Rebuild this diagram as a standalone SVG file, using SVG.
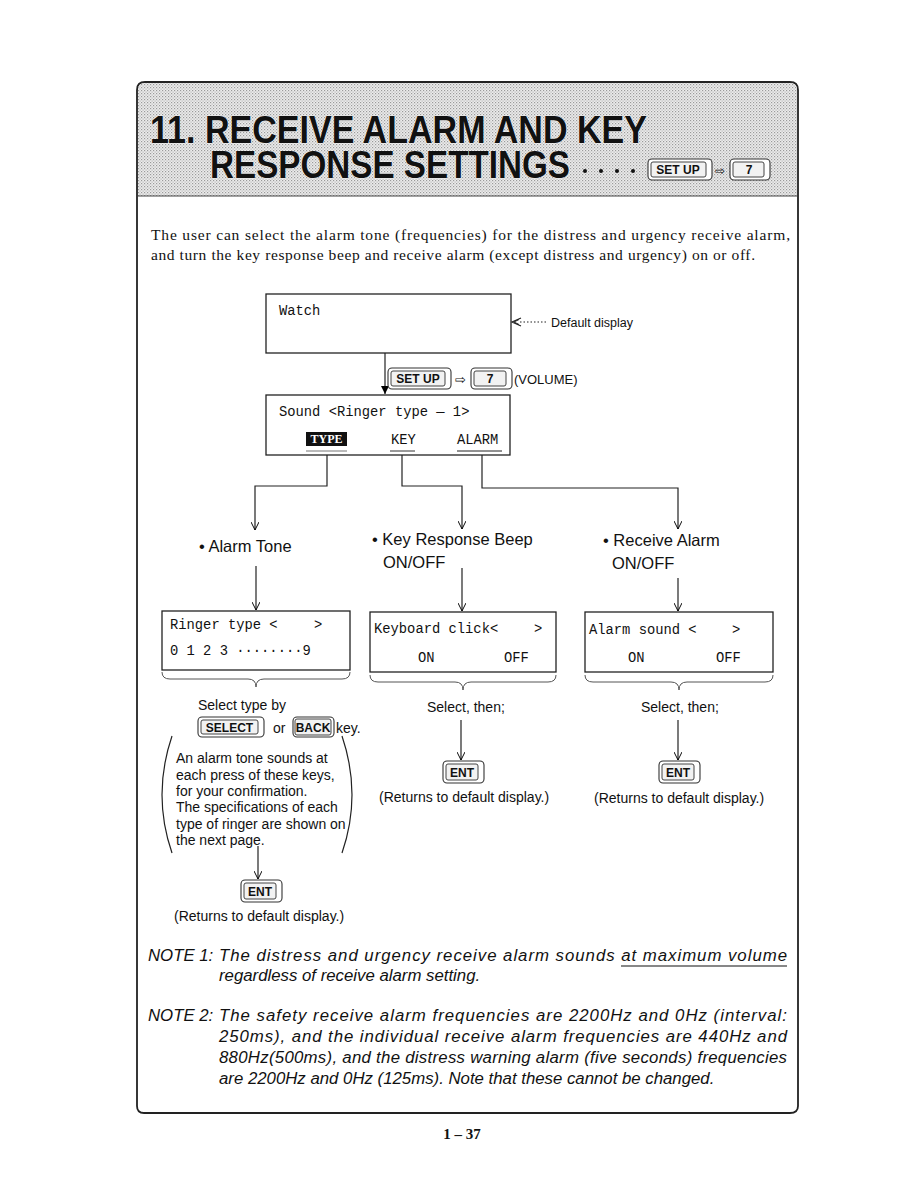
<svg xmlns="http://www.w3.org/2000/svg" width="918" height="1188" viewBox="0 0 918 1188">
<defs>
<pattern id="dots" width="3" height="3" patternUnits="userSpaceOnUse">
<rect width="3" height="3" fill="#ececec"/>
<rect width="1.2" height="1.2" fill="#9a9a9a"/>
<rect x="1.5" y="1.5" width="1.2" height="1.2" fill="#b5b5b5"/>
</pattern>
<marker id="open" viewBox="0 0 10 10" refX="10" refY="5" markerWidth="10" markerHeight="8" markerUnits="userSpaceOnUse" orient="auto">
<path d="M0,0 L10,5 L0,10" fill="none" stroke="#000" stroke-width="1.2"/>
</marker>
<marker id="filled" viewBox="0 0 10 10" refX="10" refY="5" markerWidth="12" markerHeight="8" markerUnits="userSpaceOnUse" orient="auto">
<path d="M0,0 L10,5 L0,10 Z" fill="#000"/>
</marker>
</defs>
<style>
.ser{font-family:"Liberation Serif",serif;font-size:15.5px;fill:#111}
.mono{font-family:"Liberation Mono",monospace;font-size:13.8px;fill:#111;white-space:pre}
.sans{font-family:"Liberation Sans",Arial,sans-serif;fill:#111}
.lbl{font-size:16.5px}
.sm{font-size:14px}
.note{font-family:"Liberation Sans",Arial,sans-serif;font-style:italic;font-size:16.8px;fill:#111}
.box{fill:#fff;stroke:#222;stroke-width:1.3}
.ln{fill:none;stroke:#222;stroke-width:1.2}
.key1{fill:#fff;stroke:#333;stroke-width:1.1}
.key2{fill:#f2f2f2;stroke:#444;stroke-width:1}
.kt{font-family:"Liberation Sans",Arial,sans-serif;font-weight:bold;font-size:12px;fill:#111;text-anchor:middle}
.brace{fill:none;stroke:#555;stroke-width:1}
.title{font-family:"Liberation Sans",Arial,sans-serif;font-weight:bold;font-size:39px;fill:#111;stroke:#fff;stroke-width:0.6;paint-order:stroke}
</style>

<!-- frame and header -->
<g id="frame">
<path d="M145,82 H790 Q798,82 798,90 V1106 Q798,1113 790,1113 H144 Q137,1113 137,1106 V90 Q137,82 145,82 Z" fill="#fff" stroke="#222" stroke-width="1.8"/>
<path d="M145,83 H790 Q797,83 797,90 V196 H138 V90 Q138,83 145,83 Z" fill="url(#dots)"/>
<line x1="138" y1="196" x2="797" y2="196" stroke="#444" stroke-width="1.2"/>
</g>

<g id="title">
<text class="title" x="150" y="143" textLength="497" lengthAdjust="spacingAndGlyphs">11. RECEIVE ALARM AND KEY</text>
<text class="title" x="210" y="178" textLength="360" lengthAdjust="spacingAndGlyphs">RESPONSE SETTINGS</text>
<circle cx="585" cy="171" r="2" fill="#111"/>
<circle cx="601" cy="171" r="2" fill="#111"/>
<circle cx="617" cy="171" r="2" fill="#111"/>
<circle cx="633" cy="171" r="2" fill="#111"/>
<rect class="key1" x="648" y="159" width="64" height="21" rx="4"/>
<rect class="key2" x="651" y="162" width="55" height="15" rx="2"/>
<text class="kt" x="678" y="174" font-size="11">SET UP</text>
<text class="sans" x="715" y="175" font-size="12">⇨</text>
<rect class="key1" x="730" y="159" width="40" height="21" rx="4"/>
<rect class="key2" x="733" y="162" width="31" height="15" rx="2"/>
<text class="kt" x="749" y="174" font-size="11">7</text>
</g>

<g id="intro">
<text class="ser" x="151" y="240" textLength="639" lengthAdjust="spacing">The user can select the alarm tone (frequencies) for the distress and urgency receive alarm,</text>
<text class="ser" x="151" y="260" textLength="604" lengthAdjust="spacing">and turn the key response beep and receive alarm (except distress and urgency) on or off.</text>
</g>

<!-- connectors -->
<g id="connectors">
<line class="ln" x1="385" y1="353" x2="385" y2="394" marker-end="url(#filled)"/>
<polyline class="ln" points="327,451 327,486 255,486 255,530" marker-end="url(#open)"/>
<polyline class="ln" points="402,451 402,486 462,486 462,529" marker-end="url(#open)"/>
<polyline class="ln" points="482,451 482,488 678,488 678,529" marker-end="url(#open)"/>
<line class="ln" x1="256" y1="566" x2="256" y2="610" marker-end="url(#open)"/>
<line class="ln" x1="462" y1="568" x2="462" y2="611" marker-end="url(#open)"/>
<line class="ln" x1="678" y1="578" x2="678" y2="611" marker-end="url(#open)"/>
<line class="ln" x1="461" y1="720" x2="461" y2="760" marker-end="url(#open)"/>
<line class="ln" x1="678" y1="720" x2="678" y2="760" marker-end="url(#open)"/>
<line class="ln" x1="258" y1="846" x2="258" y2="879" marker-end="url(#open)"/>
<line x1="520" y1="322" x2="548" y2="322" stroke="#222" stroke-width="1.1" stroke-dasharray="1.5,2"/>
<path d="M521,318 L512,322 L521,326" fill="none" stroke="#222" stroke-width="1.2"/>
<path d="M519,319.5 L514,322 L519,324.5" fill="none" stroke="#222" stroke-width="1"/>
</g>

<g id="watch">
<rect class="box" x="266" y="294" width="245" height="59"/>
<text class="mono" x="279" y="315">Watch</text>
<text class="sans" x="551" y="327" font-size="12.5">Default display</text>
</g>

<g id="setup-keys">
<rect class="key1" x="388" y="368" width="63" height="21" rx="4"/>
<rect class="key2" x="391" y="371" width="54" height="15" rx="2"/>
<text class="kt" x="418" y="383">SET UP</text>
<text class="sans" x="455" y="384" font-size="13">⇨</text>
<rect class="key1" x="471" y="368" width="41" height="21" rx="4"/>
<rect class="key2" x="474" y="371" width="32" height="15" rx="2"/>
<text class="kt" x="490" y="383">7</text>
<text class="sans" x="514" y="384" font-size="13">(VOLUME)</text>
</g>

<g id="sound">
<rect class="box" x="266" y="395" width="244" height="60"/>
<text class="mono" x="279" y="416">Sound &lt;Ringer type — 1&gt;</text>
<rect x="306" y="432" width="41" height="14" fill="#111"/>
<text x="326.5" y="443" font-family="Liberation Serif,serif" font-weight="bold" font-size="12" fill="#fff" text-anchor="middle">TYPE</text>
<text class="mono" x="391" y="444" font-size="12.5">KEY</text>
<text class="mono" x="457" y="444" font-size="12.5">ALARM</text>
<line x1="306" y1="451" x2="347" y2="451" stroke="#777" stroke-width="1.2"/>
<line x1="390" y1="451" x2="415" y2="451" stroke="#333" stroke-width="1"/>
<line x1="457" y1="451" x2="502" y2="451" stroke="#222" stroke-width="1"/>
</g>

<g id="labels">
<text class="sans lbl" x="199" y="552">• Alarm Tone</text>
<text class="sans lbl" x="372" y="545">• Key Response Beep</text>
<text class="sans lbl" x="383" y="568">ON/OFF</text>
<text class="sans lbl" x="603" y="546">• Receive Alarm</text>
<text class="sans lbl" x="612" y="569">ON/OFF</text>
</g>

<g id="ringer">
<rect class="box" x="162" y="611" width="188" height="59"/>
<text class="mono" x="170" y="629" font-size="13.3">Ringer type &lt;</text>
<text class="mono" x="314" y="629" font-size="13.3">&gt;</text>
<text class="mono" x="170" y="655" font-size="13.3">0 1 2 3 ········9</text>
<path class="brace" d="M162,672 Q162,679 170,679 H248 Q256,679 256,687 Q256,679 264,679 H342 Q350,679 350,672"/>
</g>

<g id="keyboard">
<rect class="box" x="370" y="612" width="186" height="60"/>
<text class="mono" x="374" y="633">Keyboard click&lt;</text>
<text class="mono" x="534" y="633">&gt;</text>
<text class="mono" x="418" y="662">ON</text>
<text class="mono" x="504" y="662">OFF</text>
<path class="brace" d="M370,675 Q370,682 378,682 H455 Q463,682 463,690 Q463,682 471,682 H548 Q556,682 556,675"/>
</g>

<g id="alarm">
<rect class="box" x="585" y="612" width="188" height="60"/>
<text class="mono" x="589" y="634">Alarm sound &lt;</text>
<text class="mono" x="732" y="634">&gt;</text>
<text class="mono" x="628" y="662">ON</text>
<text class="mono" x="716" y="662">OFF</text>
<path class="brace" d="M585,675 Q585,682 593,682 H671 Q679,682 679,690 Q679,682 687,682 H765 Q773,682 773,675"/>
</g>

<g id="alarm-tone-select">
<text class="sans sm" x="198" y="710">Select type by</text>
<rect class="key1" x="198" y="717" width="66" height="20" rx="4"/>
<rect class="key2" x="201" y="720" width="57" height="14" rx="2"/>
<text class="kt" x="229.5" y="732">SELECT</text>
<text class="sans sm" x="273" y="733">or</text>
<rect class="key1" x="293" y="717" width="41" height="20" rx="4"/>
<rect class="key2" x="295" y="719" width="36" height="16" rx="2"/>
<text class="kt" x="313" y="732">BACK</text>
<text class="sans sm" x="336" y="733">key.</text>
</g>

<g id="alarm-tone-note">
<path class="ln" d="M172,736 Q152,795 172,853" stroke-width="0.9"/>
<path class="ln" d="M342,736 Q362,795 342,853" stroke-width="0.9"/>
<text class="sans sm" x="176" y="763">An alarm tone sounds at</text>
<text class="sans sm" x="176" y="780">each press of these keys,</text>
<text class="sans sm" x="176" y="796">for your confirmation.</text>
<text class="sans sm" x="176" y="812">The specifications of each</text>
<text class="sans sm" x="176" y="829">type of ringer are shown on</text>
<text class="sans sm" x="176" y="845">the next page.</text>
</g>

<g id="ent-left">
<rect class="key1" x="241" y="880" width="41" height="22" rx="4"/>
<rect class="key2" x="244" y="883" width="32" height="16" rx="2"/>
<text class="kt" x="260" y="896">ENT</text>
<text class="sans sm" x="174" y="921">(Returns to default display.)</text>
</g>

<g id="ent-mid">
<text class="sans sm" x="427" y="712">Select, then;</text>
<rect class="key1" x="443" y="761" width="41" height="22" rx="4"/>
<rect class="key2" x="446" y="764" width="32" height="16" rx="2"/>
<text class="kt" x="462" y="777">ENT</text>
<text class="sans sm" x="379" y="802">(Returns to default display.)</text>
</g>

<g id="ent-right">
<text class="sans sm" x="641" y="712">Select, then;</text>
<rect class="key1" x="659" y="761" width="41" height="22" rx="4"/>
<rect class="key2" x="662" y="764" width="32" height="16" rx="2"/>
<text class="kt" x="678" y="777">ENT</text>
<text class="sans sm" x="594" y="803">(Returns to default display.)</text>
</g>

<g id="notes">
<text class="note" x="148" y="961">NOTE 1:</text>
<text class="note" x="219" y="961" textLength="568" lengthAdjust="spacing">The distress and urgency receive alarm sounds at maximum volume</text>
<line x1="621" y1="966" x2="787" y2="966" stroke="#111" stroke-width="1.1"/>
<text class="note" x="219" y="981">regardless of receive alarm setting.</text>
<text class="note" x="148" y="1021">NOTE 2:</text>
<text class="note" x="219" y="1021" textLength="568" lengthAdjust="spacing">The safety receive alarm frequencies are 2200Hz and 0Hz (interval:</text>
<text class="note" x="219" y="1042" textLength="568" lengthAdjust="spacing">250ms), and the individual receive alarm frequencies are 440Hz and</text>
<text class="note" x="219" y="1063" textLength="568" lengthAdjust="spacing">880Hz(500ms), and the distress warning alarm (five seconds) frequencies</text>
<text class="note" x="219" y="1084">are 2200Hz and 0Hz (125ms). Note that these cannot be changed.</text>
</g>

<g id="page">
<text x="462" y="1139" font-family="Liberation Serif,serif" font-weight="bold" font-size="15" fill="#111" text-anchor="middle">1 – 37</text>
</g>
</svg>
